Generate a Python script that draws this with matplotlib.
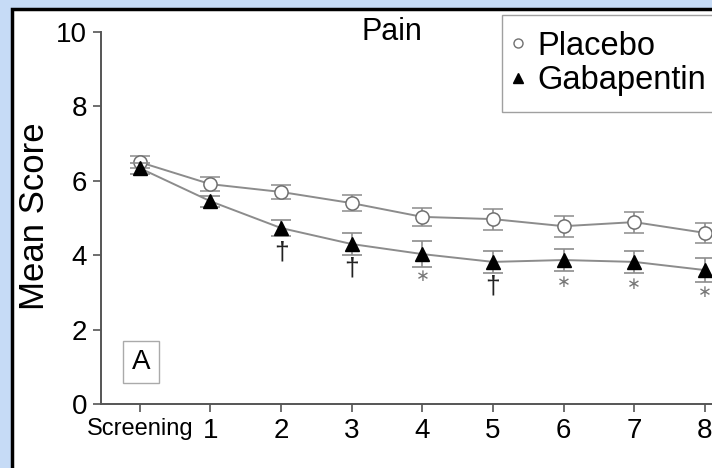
import matplotlib as mpl
mpl.use('Agg')
import matplotlib.pyplot as plt
from matplotlib.lines import Line2D
from matplotlib.patches import Rectangle

plt.rcParams['font.family'] = ['Liberation Sans', 'DejaVu Sans']

# visits and scores
visits = [0, 1, 2, 3, 4, 5, 6, 7, 8]
visit_labels = ['Screening', '1', '2', '3', '4', '5', '6', '7', '8']
placebo = [6.50, 5.91, 5.70, 5.40, 5.03, 4.97, 4.78, 4.89, 4.60]
placebo_err = [0.16, 0.19, 0.19, 0.21, 0.25, 0.28, 0.28, 0.28, 0.27]
gaba = [6.34, 5.45, 4.73, 4.30, 4.03, 3.82, 3.87, 3.82, 3.60]
gaba_err = [0.15, 0.15, 0.22, 0.30, 0.35, 0.30, 0.30, 0.30, 0.32]
# significance marks below the gabapentin points
sig_marks = ['', '', '\u2020', '\u2020', '*', '\u2020', '*', '*', '*']

W, H = 712, 468
fig = plt.figure(figsize=(W / 100, H / 100), dpi=100)
fig.patch.set_facecolor('#c6dbf6')

# white panel with black frame on left and top
panel = Rectangle((12 / W, -0.1), 1.2, 1.1 - 9 / H, transform=fig.transFigure,
                  facecolor='white', edgecolor='black', linewidth=2.5, zorder=-5)
fig.patches.append(panel)

ax = fig.add_axes([101 / W, 1 - 404 / H, 618 / W, 372 / H])
ax.set_facecolor('none')
ax.set_zorder(2)

grey = '#8c8c8c'
ax.errorbar(visits, placebo, yerr=placebo_err, color=grey, lw=1.4, capsize=7,
            capthick=1.2, elinewidth=1.2, marker='o', ms=9.5, mfc='white',
            mec='#707070', mew=1.1, zorder=3)
ax.errorbar(visits, gaba, yerr=gaba_err, color=grey, lw=1.4, capsize=7,
            capthick=1.2, elinewidth=1.2, marker='^', ms=10, mfc='black',
            mec='black', zorder=4)

for x, y, s in zip(visits, gaba, sig_marks):
    if s == '\u2020':
        ax.text(x, y - 0.65, s, ha='center', va='center', fontsize=19, color='#222222')
    elif s == '*':
        ax.text(x, y - 0.6, '\u2217', ha='center', va='center', fontsize=12,
                color='#777777', family='DejaVu Sans')

ax.set_xlim(-0.55, 8.2)
ax.set_ylim(0, 10)
ax.set_yticks([0, 2, 4, 6, 8, 10])
ax.set_xticks(visits)
ax.set_xticklabels(visit_labels)
for lab in ax.get_xticklabels():
    lab.set_fontsize(17 if lab.get_text() == 'Screening' else 20)
ax.tick_params(axis='y', labelsize=20, length=6, width=1.2, color='#555555', pad=4)
ax.tick_params(axis='x', length=6, width=1.2, color='#555555', pad=4)
for side in ['top', 'right']:
    ax.spines[side].set_visible(False)
for side in ['left', 'bottom']:
    ax.spines[side].set_color('#555555')
    ax.spines[side].set_linewidth(1.4)

fig.text(35 / W, 1 - 216 / H, 'Mean Score', rotation=90, ha='center', va='center',
         fontsize=25)
fig.text(392 / W, 1 - 40 / H, 'Pain', ha='center', va='baseline', fontsize=22)

ax.text(141 / W, 1 - 362 / H, 'A', transform=fig.transFigure, ha='center',
        va='center', fontsize=20,
        bbox=dict(boxstyle='square,pad=0.3', facecolor='white', edgecolor='#aaaaaa', lw=1))

handles = [
    Line2D([], [], ls='none', marker='o', ms=6.5, mfc='white', mec='#707070', mew=1),
    Line2D([], [], ls='none', marker='^', ms=7, mfc='black', mec='black'),
]
leg = fig.legend(handles, ['Placebo', 'Gabapentin'], loc='upper left',
                 bbox_to_anchor=(502 / W, 1 - 15 / H), borderaxespad=0,
                 fontsize=23.5, frameon=True, fancybox=False, handlelength=0,
                 handletextpad=0.6, labelspacing=0.11, borderpad=0.48)
leg.get_frame().set_edgecolor('#888888')
leg.get_frame().set_linewidth(1)

fig.savefig('out.png', dpi=100, facecolor=fig.get_facecolor())
